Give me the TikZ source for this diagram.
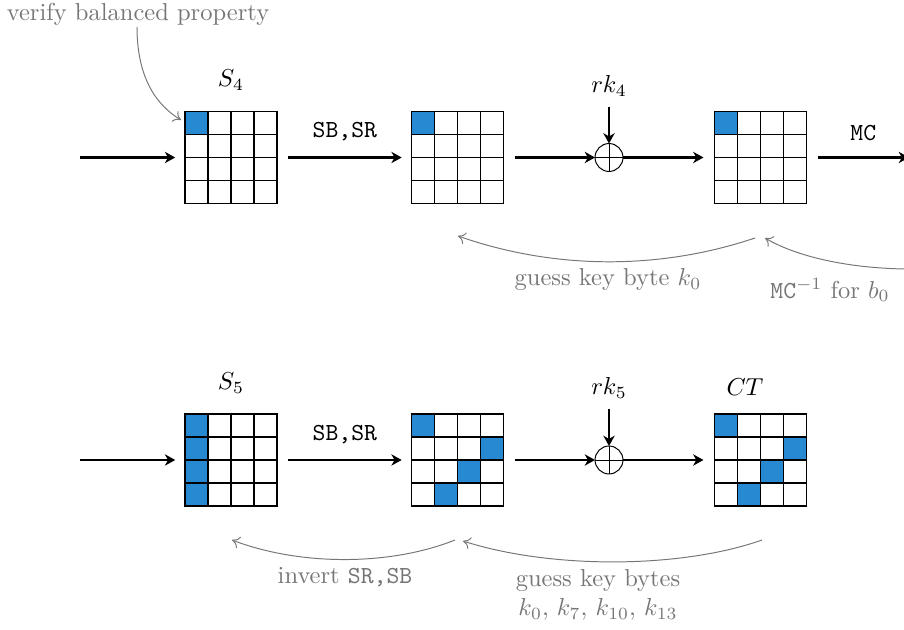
\documentclass[tikz,border=0pt]{standalone}
\usetikzlibrary{calc,arrows.meta}
\definecolor{cellblue}{RGB}{38,137,210}
\definecolor{notegray}{RGB}{118,118,118}

% one AES state: name, centre, list of highlighted cells (column/row)
\newcommand\aesstate[3]{%
  \node[statebox] (#1) at (#2) {};
  \foreach \c/\r in {#3}
    \fill[cellblue] ($(#1.north west)+(\c*9.385pt,-\r*9.385pt)$) rectangle ++(9.385pt,-9.385pt);
  \foreach \i in {0,...,4} {
    \draw[gridline] ($(#1.north west)+(\i*9.385pt,0pt)$) -- ++(0pt,-37.54pt);
    \draw[gridline] ($(#1.north west)+(0pt,-\i*9.385pt)$) -- ++(37.54pt,0pt);
  }%
}

\begin{document}
\begin{tikzpicture}[x=0.408pt,y=-0.408pt,
  statebox/.style={minimum size=37.54pt,inner sep=0pt,outer sep=0pt},
  gridline/.style={line width=0.7pt,line cap=rect},
  flow/.style={line width=0.85pt,-{Stealth[length=4.2pt,width=4.6pt,inset=1.3pt]}},
  note/.style={draw=notegray,line width=0.4pt,-{To[length=3pt,width=5pt]}},
  notetext/.style={text=notegray,inner sep=1pt},
  xorop/.style={circle,draw,thin,minimum size=11.4pt,inner sep=0pt,outer sep=0pt},
  lbl/.style={inner sep=1pt},
]
\useasboundingbox (0,0) rectangle (904,630);

% ---------------- round 4 ----------------
\aesstate{sa}{231,157.5}{0/0}
\aesstate{sb}{457.5,157.5}{0/0}
\aesstate{sc}{760.5,157.5}{0/0}
\node[xorop] (xa) at (609,157.5) {};
\draw[thin] (xa.north) -- (xa.south) (xa.west) -- (xa.east);

\node[lbl] (s4) at (231,80) {$S_4$};
\node[lbl] (rka) at (609,86) {$rk_4$};
\coordinate (ina) at (80,157.5);
\coordinate (outa) at (909,157.5);

\draw[flow] (ina) -- ([xshift=-4pt]sa.west);
\draw[flow] ([xshift=4.5pt]sa.east) -- node[above=3pt] {\texttt{SB,SR}} ([xshift=-4pt]sb.west);
\draw[flow] ([xshift=4.5pt]sb.east) -- (xa.west);
\draw[flow] (xa.east) -- ([xshift=-4.5pt]sc.west);
\draw[flow] ([xshift=4.5pt]sc.east) -- node[above=3pt] {\texttt{MC}} (outa);
\draw[flow] ([yshift=-3pt]rka.south) -- (xa.north);

% annotations of round 4
\node[notetext] (vb) at (138,14) {verify balanced property};
\coordinate (vbtip) at (181,120);
\draw[note] (137,27) .. controls (137,80) and (158,106) .. (vbtip);

\coordinate (gka) at (755,238);
\coordinate (gkb) at (458,236);
\draw[note] (gka) .. controls (660,270) and (555,270) .. (gkb);
\node[notetext] (gk) at (608,280) {guess key byte $k_0$};

\coordinate (mca) at (906,269);
\coordinate (mcb) at (765,238);
\draw[note] (mca) .. controls (840,268) and (792,254) .. (mcb);
\node[notetext] (mcinv) at (830,290) {\texttt{MC}$^{-1}$ for $b_0$};

% ---------------- round 5 ----------------
\aesstate{ta}{231,460}{0/0,0/1,0/2,0/3}
\aesstate{tb}{457.5,460}{0/0,3/1,2/2,1/3}
\aesstate{tc}{760.5,460}{0/0,3/1,2/2,1/3}
\node[xorop] (xb) at (609,460) {};
\draw[thin] (xb.north) -- (xb.south) (xb.west) -- (xb.east);

\node[lbl] (s5) at (231,383) {$S_5$};
\node[lbl] (rkb) at (609,388) {$rk_5$};
\node[lbl] (ct) at (745,387) {$CT$};
\coordinate (inb) at (80,460);

\draw[flow] (inb) -- ([xshift=-4pt]ta.west);
\draw[flow] ([xshift=4.5pt]ta.east) -- node[above=3pt] {\texttt{SB,SR}} ([xshift=-4pt]tb.west);
\draw[flow] ([xshift=4.5pt]tb.east) -- (xb.west);
\draw[flow] (xb.east) -- ([xshift=-4.5pt]tc.west);
\draw[flow] ([yshift=-3pt]rkb.south) -- (xb.north);

% annotations of round 5
\coordinate (iva) at (455,540);
\coordinate (ivb) at (232,540);
\draw[note] (iva) .. controls (390,566) and (300,566) .. (ivb);
\node[notetext] (inv) at (345,577) {invert \texttt{SR,SB}};

\coordinate (gba) at (762,540);
\coordinate (gbb) at (463,541);
\draw[note] (gba) .. controls (680,569) and (550,569) .. (gbb);
\node[notetext,align=center] (gks) at (598,595) {guess key bytes\\$k_0$, $k_7$, $k_{10}$, $k_{13}$};
\end{tikzpicture}
\end{document}
